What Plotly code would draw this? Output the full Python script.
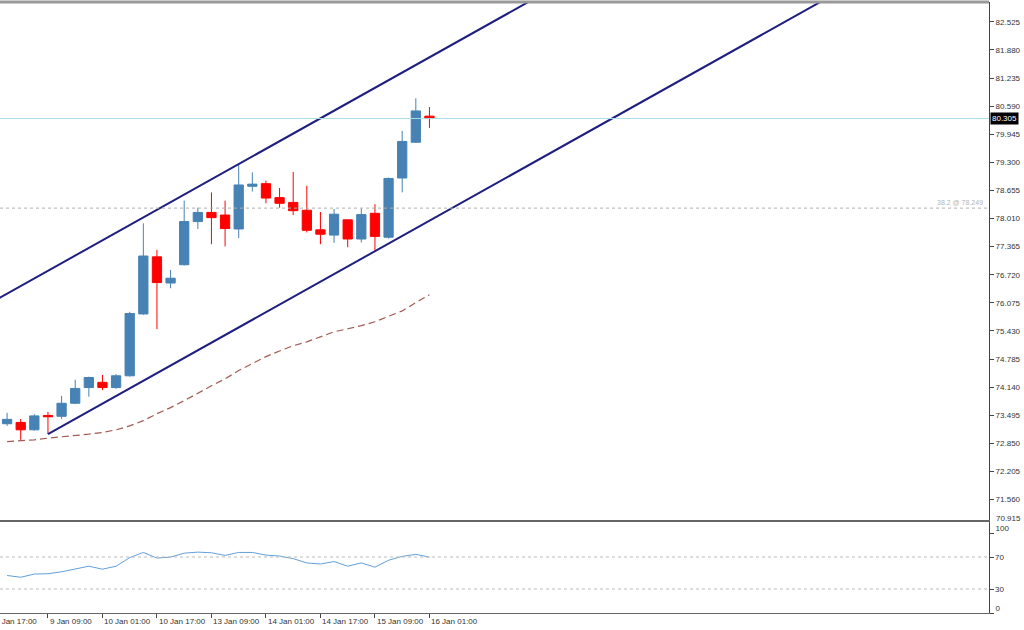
import plotly.graph_objects as go

# ---------------- data (H4 bars) ----------------
bar_index = list(range(32))
opens = [73.30, 73.33, 73.16, 73.49, 73.47, 73.77, 74.13, 74.25, 74.13, 74.40, 75.82, 77.13, 76.53, 76.95, 77.94, 78.15,
         78.09, 77.77, 78.75, 78.81, 78.49, 78.38, 78.20, 77.75, 77.63, 77.98, 77.54, 78.13, 77.58, 78.94, 79.76, 80.36]
highs = [73.55, 73.41, 73.52, 73.57, 73.94, 74.31, 74.38, 74.42, 74.44, 75.87, 77.90, 77.29, 76.83, 78.42, 78.26, 78.61,
         78.42, 79.26, 79.07, 78.88, 78.71, 79.08, 78.76, 78.16, 78.23, 77.99, 78.24, 78.34, 78.95, 80.02, 80.77, 80.57]
lows = [73.25, 72.93, 73.14, 73.06, 73.41, 73.75, 73.92, 74.07, 74.10, 74.38, 75.80, 75.47, 76.41, 76.93, 77.77, 77.42,
        77.37, 77.56, 78.63, 78.36, 78.26, 78.09, 77.69, 77.42, 77.45, 77.35, 77.46, 77.27, 77.55, 78.61, 79.75, 80.09]
closes = [73.40, 73.16, 73.48, 73.46, 73.77, 74.11, 74.36, 74.13, 74.40, 75.83, 77.15, 76.54, 76.64, 77.94, 78.15, 78.03,
          77.78, 78.78, 78.80, 78.48, 78.36, 78.19, 77.74, 77.65, 78.11, 77.54, 78.10, 77.60, 78.93, 79.78, 80.48, 80.305]

ma_values = [72.89, 72.91, 72.93, 72.97, 73.00, 73.02, 73.06, 73.10, 73.16, 73.25, 73.37, 73.53, 73.67, 73.83, 74.01, 74.17,
             74.33, 74.52, 74.68, 74.84, 74.97, 75.09, 75.18, 75.30, 75.41, 75.48, 75.55, 75.64, 75.76, 75.89, 76.08, 76.26]

rsi_values = [46.9, 44.7, 48.7, 49.1, 51.5, 55.2, 58.5, 54.8, 58.5, 69.2, 75.7, 68.7, 69.9, 74.8, 76.1, 75.3,
              72.0, 75.7, 75.7, 72.4, 71.2, 68.0, 62.6, 61.3, 64.3, 58.5, 62.6, 57.3, 65.9, 70.8, 73.3, 69.9]

tick_labels = ["8 Jan 17:00", "9 Jan 09:00", "10 Jan 01:00", "10 Jan 17:00", "13 Jan 09:00",
               "14 Jan 01:00", "14 Jan 17:00", "15 Jan 09:00", "16 Jan 01:00"]
tick_index = [-1, 3, 7, 11, 15, 19, 23, 27, 31]

price_ticks = [82.525, 81.880, 81.235, 80.590, 79.945, 79.300, 78.655, 78.010, 77.365, 76.720,
               76.075, 75.430, 74.785, 74.140, 73.495, 72.850, 72.205, 71.560]
bottom_price_label = "70.915"
current_price = 80.305
fib_level = 78.249
fib_label = "38.2 @ 78.249"
rsi_levels = [70, 30]
rsi_edge_values = [100, 0]

channel_anchor_index = 3
channel_anchor_price = 73.06
channel_slope = 0.175      # price per bar
channel_width = 3.75       # price distance of parallel line

# ---------------- layout constants ----------------
X_RANGE = [-0.52, 72.07]
Y_RANGE = [71.09, 82.98]
Y2_RANGE = [0, 113.75]
MAIN_DOMAIN = [0.1522, 1.0]
RSI_DOMAIN = [0.0, 0.1489]
FONT = "Liberation Sans"

BULL = "#4682B4"
BEAR = "#FF0000"
CHANNEL = "#1F1F80"

fig = go.Figure()

fig.add_trace(go.Candlestick(
    x=bar_index, open=opens, high=highs, low=lows, close=closes,
    increasing=dict(line=dict(color=BULL, width=1), fillcolor=BULL),
    decreasing=dict(line=dict(color=BEAR, width=1), fillcolor=BEAR),
    whiskerwidth=0, xaxis="x", yaxis="y", showlegend=False, hoverinfo="skip"))

fig.add_trace(go.Scatter(x=bar_index, y=ma_values, mode="lines",
                         line=dict(color="#A25A52", width=1.2, dash="7px,4px"),
                         xaxis="x", yaxis="y", showlegend=False, hoverinfo="skip"))

# equidistant channel
lo_x = [channel_anchor_index, 80]
lo_y = [channel_anchor_price + (v - channel_anchor_index) * channel_slope for v in lo_x]
up_x = [-3, 80]
up_y = [channel_anchor_price + channel_width + (v - channel_anchor_index) * channel_slope for v in up_x]
for xs, ys in ((lo_x, lo_y), (up_x, up_y)):
    fig.add_trace(go.Scatter(x=xs, y=ys, mode="lines", line=dict(color=CHANNEL, width=2),
                             xaxis="x", yaxis="y", showlegend=False, hoverinfo="skip"))

fig.add_trace(go.Scatter(x=bar_index, y=rsi_values, mode="lines",
                         line=dict(color="#62A0DA", width=1),
                         xaxis="x2", yaxis="y2", showlegend=False, hoverinfo="skip"))

shapes = [
    dict(type="line", xref="paper", yref="y", x0=0, x1=1, y0=current_price, y1=current_price,
         line=dict(color="#A9DDE8", width=1)),
    dict(type="line", xref="paper", yref="y", x0=0, x1=1, y0=fib_level, y1=fib_level,
         line=dict(color="#B0B0B0", width=1, dash="dot")),
    dict(type="line", xref="paper", yref="paper", x0=0, x1=1, y0=1, y1=1,
         line=dict(color="#999999", width=3)),
]
for lv in rsi_levels:
    shapes.append(dict(type="line", xref="paper", yref="y2", x0=0, x1=1, y0=lv, y1=lv,
                       line=dict(color="#BBBBBB", width=1, dash="dot")))

annotations = [
    dict(text=f"{current_price:.3f}", xref="paper", yref="y", x=1, y=current_price,
         xanchor="left", yanchor="middle", xshift=1, showarrow=False, bgcolor="#000000",
         borderpad=1, font=dict(color="#FFFFFF", size=8, family=FONT)),
    dict(text=fib_label, xref="paper", yref="y", x=0.996, y=fib_level, xanchor="right", yanchor="bottom",
         showarrow=False, font=dict(color="#B4B4B4", size=7, family=FONT)),
    dict(text=bottom_price_label, xref="paper", yref="paper", x=1, y=MAIN_DOMAIN[0], xanchor="left",
         yanchor="middle", xshift=5, yshift=2, showarrow=False, font=dict(color="#333333", size=8, family=FONT)),
]
span = X_RANGE[1] - X_RANGE[0]
for idx, lab in zip(tick_index, tick_labels):
    annotations.append(dict(text=lab, xref="paper", yref="paper", x=(idx - X_RANGE[0]) / span, y=0,
                            xanchor="left", yanchor="top", yshift=-2, showarrow=False,
                            font=dict(color="#333333", size=8, family=FONT)))
for lv in rsi_levels:
    annotations.append(dict(text=str(lv), xref="paper", yref="y2", x=1, y=lv,
                            xanchor="left", yanchor="middle", xshift=4, showarrow=False,
                            font=dict(color="#333333", size=8, family=FONT)))

rsi_tickvals = rsi_edge_values + rsi_levels
rsi_ticktext = [str(v) for v in rsi_edge_values] + ["" for _ in rsi_levels]

fig.update_layout(
    width=1024, height=630,
    margin=dict(l=0, r=35, t=2, b=17),
    paper_bgcolor="#FFFFFF", plot_bgcolor="#FFFFFF",
    font=dict(family=FONT, size=8, color="#333333"),
    boxgap=0.2, boxgroupgap=0.15,
    xaxis=dict(domain=[0, 1], range=X_RANGE, anchor="y", showgrid=False, zeroline=False,
               showticklabels=False, ticks="", showline=True, linecolor="#666666", linewidth=1,
               rangeslider=dict(visible=False), fixedrange=True),
    yaxis=dict(domain=MAIN_DOMAIN, range=Y_RANGE, anchor="x", side="right", showgrid=False, zeroline=False,
               tickvals=price_ticks, ticktext=[f"{v:.3f}" for v in price_ticks], ticks="outside", ticklen=4,
               tickcolor="#444444", showline=True, linecolor="#444444", linewidth=1,
               tickfont=dict(size=8, family=FONT, color="#333333")),
    xaxis2=dict(domain=[0, 1], range=X_RANGE, anchor="y2", showgrid=False, zeroline=False,
                tickvals=tick_index, ticktext=["" for _ in tick_index], ticks="outside", ticklen=4,
                tickcolor="#444444", showline=True, mirror=True, linecolor="#666666", linewidth=1),
    yaxis2=dict(domain=RSI_DOMAIN, range=Y2_RANGE, anchor="x2", side="right", showgrid=False, zeroline=False,
                tickvals=rsi_tickvals, ticktext=rsi_ticktext, ticks="outside", ticklen=4,
                ticklabelshift=-5, tickfont=dict(size=8, family=FONT, color="#333333"),
                tickcolor="#444444", showline=True, linecolor="#444444", linewidth=1),
    shapes=shapes, annotations=annotations, showlegend=False,
)

fig.write_html("out.html", config={"displayModeBar": False},
               post_script="document.body.style.margin='0';document.body.style.padding='0';")
